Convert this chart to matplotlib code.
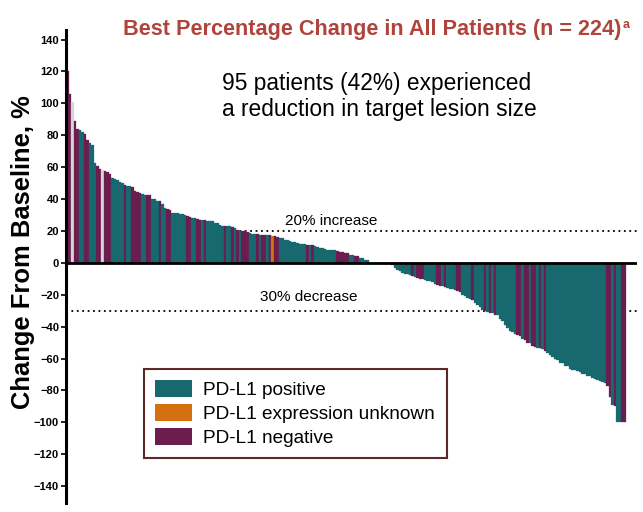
import matplotlib.pyplot as plt
from matplotlib.patches import Patch

plt.rcParams['font.family'] = ['Liberation Sans', 'DejaVu Sans']

# best % change from baseline, sorted, one value per patient
best_change = [
    120, 106, 101, 89, 84, 83, 82, 81, 77, 75, 74, 62.6, 60.5, 59, 58.4, 57.5, 57, 56,
    53, 52.5, 52, 51, 50, 49, 48.3, 48, 47.5, 45.2, 44.5, 44, 43, 42.7, 42.7, 42.5, 40.2, 40, 39,
    38.5, 37, 34.5, 33.5, 33, 31.5, 31.2, 31, 30.8, 30.5, 30.3, 29.3, 29, 28.3, 28, 27.2, 27, 27, 26.8,
    26.5, 26.3, 26, 25, 24.8, 23.5, 23.3, 23.2, 23.2, 23, 22.4, 21.8, 20.7, 20, 20, 19.7, 19.5, 18.5, 18.2, 18,
    17.8, 17.6, 17.5, 17.4, 17.3, 17.2, 17, 16.8, 16.5, 15.8, 15.5, 14.6, 14.3, 13.6, 13.3, 13, 12.7,
    12, 11.8, 11.6, 11.4, 11.2, 11,
    10.3, 9.8, 9.6, 9.4, 8.5, 8.3, 8.2, 8, 7.8, 7.3, 7.1, 7, 6.3, 6, 5.2, 5, 4.5, 4.3, 3, 2.8, 2, 1.8,
    0, 0, 0, 0, 0, 0, 0, 0,
    -1, -1.5, -3.4, -4.5, -5, -6.3, -7, -7.3, -7.6, -8.5, -9, -9.6, -10, -10.3, -10.8, -11.2,
    -11.6, -12.2, -13, -13.8, -14.3, -14.8, -15.2, -15.8, -16.3, -16.7, -17, -17.5, -18.5, -20, -21, -22,
    -22.8, -23.5, -25, -26.5, -28, -29.5, -30.5, -31, -31.2, -31.6, -32.5, -33, -35, -36.5, -39, -41,
    -42.5, -43.5, -44.5, -45.5, -46, -47.5, -48.5, -50, -50.5, -52, -52.5, -53.2, -53.6, -54, -55,
    -56.5, -57.5, -59, -60, -61, -62.5, -63, -64.5, -65, -66.5, -67, -67.5, -68, -68.5, -69.5, -70,
    -70.8, -71.2, -72.2, -73, -73.5, -74.3, -74.8, -75.5, -77.5, -84, -89, -90, -99.5, -100, -100, -100,
]

# T = PD-L1 positive, P = negative, O = unknown, G = not evaluable (grey)
pdl1 = (
    "PPGPPTTPPTTTPPGPPP"
    "TTTTTPTTPPPPTTPPTTT"
    "PTTPPTTTTTTPPTTPPTP"
    "TTTTTTTPTTPTPTPPPTTT"
    "PTPPTPOPPTTTTTTTTTTTPTP"
    "TTTTTTTTTPPPPPTTPPTTTT"
    "TTTTTTTT"
    "PPTTTTTTTPTPPPTT"
    "TTTPPTPTTTTPPTTT"
    "TPTTTTPTPTPTTTTT"
    "TTTPPTPPTPPTPTP"
    "TTTTTTTTTTTTTTTT"
    "TTTTTTTTPPTPTTPP"
)

colors = {"T": "#17696f", "P": "#6b1d4f", "O": "#d4700f", "G": "#d6d6d6"}
legend_labels = ["PD-L1 positive", "PD-L1 expression unknown", "PD-L1 negative"]

fig = plt.figure(figsize=(6.43, 5.12), dpi=100)
ax = fig.add_axes([66 / 643, 9 / 512, 571 / 643, 473 / 512])

x = range(len(best_change))
bar_colors = [colors[s] for s in pdl1]
ax.bar(x, best_change, width=1.0, color=bar_colors, edgecolor=bar_colors, linewidth=0.2, zorder=2)

ax.axhline(20, color="black", ls=(0, (1, 2)), lw=1.3, zorder=1)
ax.axhline(-30, color="black", ls=(0, (1, 2)), lw=1.3, zorder=1)
ax.axhline(0, color="black", lw=2, zorder=3)

ax.set_xlim(-0.5, 227.9)
ax.set_ylim(-150.6, 146)
for s in ["top", "right", "bottom"]:
    ax.spines[s].set_visible(False)
ax.spines["left"].set_linewidth(2.2)
ax.set_xticks([])
ax.set_yticks(range(-140, 141, 20))
ax.tick_params(axis="y", length=3.5, width=1.2, labelsize=8, pad=1.5)
for lab in ax.get_yticklabels():
    lab.set_fontweight("bold")

fig.text(23.5 / 643, 1 - 252 / 512, "Change From Baseline, %", rotation=90,
         ha="center", va="center", fontsize=18.4, fontweight="bold")

fig.text(621 / 643, 1 - 30 / 512, "Best Percentage Change in All Patients (n = 224)",
         ha="right", va="center", fontsize=15.6, fontweight="bold", color="#b0443c")
fig.text(623 / 643, 1 - 25 / 512, "a", ha="left", va="center", fontsize=9,
         fontweight="bold", color="#b0443c")

fig.text(222 / 643, 1 - 72 / 512, "95 patients (42%) experienced\na reduction in target lesion size",
         ha="left", va="top", fontsize=16.4, linespacing=1.17)

fig.text(331 / 643, 1 - 221 / 512, "20% increase", ha="center", va="center", fontsize=11)
fig.text(309 / 643, 1 - 297 / 512, "30% decrease", ha="center", va="center", fontsize=11)

handles = [Patch(facecolor=colors["T"]), Patch(facecolor=colors["O"]), Patch(facecolor=colors["P"])]
leg = ax.legend(handles, legend_labels,
                loc="upper left", bbox_to_anchor=(144 / 643, 1 - 369 / 512),
                bbox_transform=fig.transFigure, borderaxespad=0, fontsize=13.7,
                handlelength=1.9, handleheight=1.0, handletextpad=0.62, labelspacing=0.25,
                borderpad=0.6, fancybox=False, edgecolor="#5a2a27", framealpha=1)
leg.get_frame().set_linewidth(1.5)

plt.savefig("out.png", dpi=100)
